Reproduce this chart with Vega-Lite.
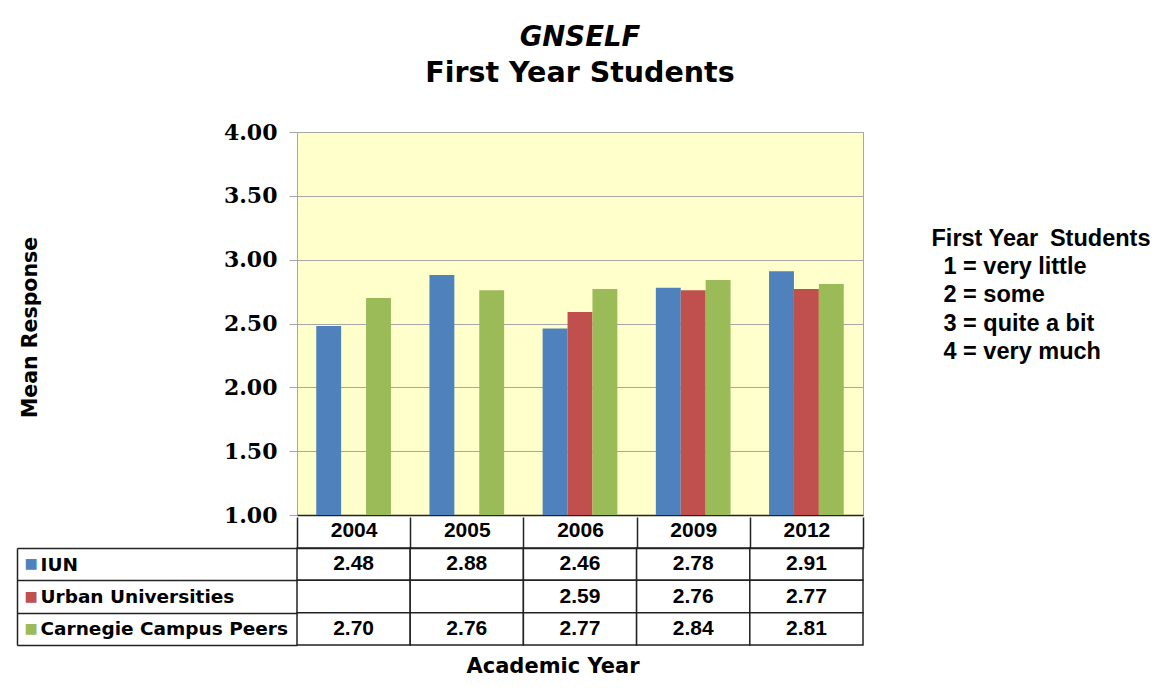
{
  "$schema": "https://vega.github.io/schema/vega-lite/v6.json",
  "background": "white",
  "padding": {"left": 16, "top": 23, "right": 0, "bottom": 0},
  "datasets": {
    "scores": [
      {"year": "2004", "series": "IUN", "value": 2.48},
      {"year": "2004", "series": "Urban Universities", "value": null},
      {"year": "2004", "series": "Carnegie Campus Peers", "value": 2.70},
      {"year": "2005", "series": "IUN", "value": 2.88},
      {"year": "2005", "series": "Urban Universities", "value": null},
      {"year": "2005", "series": "Carnegie Campus Peers", "value": 2.76},
      {"year": "2006", "series": "IUN", "value": 2.46},
      {"year": "2006", "series": "Urban Universities", "value": 2.59},
      {"year": "2006", "series": "Carnegie Campus Peers", "value": 2.77},
      {"year": "2009", "series": "IUN", "value": 2.78},
      {"year": "2009", "series": "Urban Universities", "value": 2.76},
      {"year": "2009", "series": "Carnegie Campus Peers", "value": 2.84},
      {"year": "2012", "series": "IUN", "value": 2.91},
      {"year": "2012", "series": "Urban Universities", "value": 2.77},
      {"year": "2012", "series": "Carnegie Campus Peers", "value": 2.81}
    ],
    "notes": [
      {"line": "First Year\u2002Students", "order": 0},
      {"line": "1 = very little", "order": 1},
      {"line": "2 = some", "order": 2},
      {"line": "3 = quite a bit", "order": 3},
      {"line": "4 = very much", "order": 4}
    ]
  },
  "spacing": -11,
  "vconcat": [
    {
      "spacing": 68,
      "center": true,
      "bounds": "flush",
      "hconcat": [
        {
          "width": 566,
          "height": 383,
          "data": {"name": "scores"},
          "view": {"fill": "#FFFFCC", "stroke": "#A6A6A6"},
          "title": {
            "text": "GNSELF",
            "subtitle": "First Year Students",
            "anchor": "middle",
            "frame": "group",
            "font": "DejaVu Sans",
            "fontSize": 27.5,
            "fontWeight": "bold",
            "fontStyle": "italic",
            "color": "black",
            "subtitleFont": "DejaVu Sans",
            "subtitleFontSize": 28.5,
            "subtitleFontWeight": "bold",
            "subtitleColor": "black",
            "subtitlePadding": 7,
            "offset": 34
          },
          "mark": {"type": "bar"},
          "encoding": {
            "x": {
              "field": "year",
              "type": "nominal",
              "sort": ["2004", "2005", "2006", "2009", "2012"],
              "scale": {"paddingInner": 0.34, "paddingOuter": 0.17},
              "axis": {"title": null, "labels": false, "ticks": false, "domain": true, "domainColor": "#222222", "domainWidth": 1.5, "grid": false}
            },
            "xOffset": {
              "field": "series",
              "type": "nominal",
              "sort": ["IUN", "Urban Universities", "Carnegie Campus Peers"],
              "scale": {"paddingInner": 0, "paddingOuter": 0}
            },
            "y": {
              "field": "value",
              "type": "quantitative",
              "scale": {"domain": [1, 4], "nice": false, "zero": false},
              "axis": {
                "values": [1, 1.5, 2, 2.5, 3, 3.5, 4],
                "format": ".2f",
                "labelFont": "DejaVu Serif",
                "labelFontSize": 22,
                "labelFontWeight": "bold",
                "labelColor": "black",
                "labelPadding": 12,
                "tickSize": 8,
                "tickColor": "#A6A6A6",
                "domain": false,
                "grid": true,
                "gridColor": "#A6A6A6",
                "gridWidth": 1,
                "title": "Mean Response",
                "titleFont": "DejaVu Sans",
                "titleFontSize": 20.5,
                "titleFontWeight": "bold",
                "titleColor": "black",
                "titleX": -257,
                "titleY": 195,
                "minExtent": 280
              }
            },
            "y2": {"datum": 1},
            "color": {
              "field": "series",
              "type": "nominal",
              "scale": {"domain": ["IUN", "Urban Universities", "Carnegie Campus Peers"], "range": ["#4F81BD", "#C0504D", "#9BBB59"]},
              "legend": null
            }
          }
        },
        {
          "width": 1,
          "height": 197,
          "data": {"name": "notes"},
          "view": {"stroke": null},
          "encoding": {
            "y": {"field": "order", "type": "ordinal", "axis": null, "scale": {"type": "band", "paddingInner": 0, "paddingOuter": 1, "align": 0}},
            "text": {"field": "line", "type": "nominal"}
          },
          "layer": [
            {
              "transform": [{"filter": "datum.order == 0"}],
              "mark": {"type": "text", "align": "left", "baseline": "middle", "font": "Liberation Sans", "fontSize": 23.5, "fontWeight": "bold", "color": "black"}
            },
            {
              "transform": [{"filter": "datum.order > 0"}],
              "mark": {"type": "text", "align": "left", "baseline": "middle", "dx": 12, "font": "Liberation Sans", "fontSize": 23.5, "fontWeight": "bold", "color": "black"}
            }
          ]
        }
      ]
    },
    {
      "width": 566,
      "height": 97,
      "data": {"name": "scores"},
      "view": {"stroke": null},
      "title": {
        "text": "Academic Year",
        "orient": "bottom",
        "anchor": "middle",
        "frame": "group",
        "dx": -27,
        "font": "DejaVu Sans",
        "fontSize": 21,
        "fontWeight": "bold",
        "color": "black",
        "offset": 10
      },
      "layer": [
        {
          "mark": {"type": "rect", "fill": "white", "stroke": "#222222", "strokeWidth": 1.5},
          "encoding": {
            "x": {
              "field": "year",
              "type": "nominal",
              "sort": ["2004", "2005", "2006", "2009", "2012"],
              "scale": {"paddingInner": 0, "paddingOuter": 0},
              "axis": {
                "orient": "top",
                "title": null,
                "tickBand": "extent",
                "tickSize": 31,
                "tickColor": "#222222",
                "tickWidth": 1.5,
                "domainColor": "#222222",
                "domainWidth": 1.5,
                "labelPadding": -23,
                "labelAngle": 0,
                "labelFont": "Liberation Sans",
                "labelFontSize": 21,
                "labelFontWeight": "bold",
                "labelColor": "black"
              }
            },
            "y": {
              "field": "series",
              "type": "nominal",
              "sort": ["IUN", "Urban Universities", "Carnegie Campus Peers"],
              "scale": {"paddingInner": 0, "paddingOuter": 0},
              "axis": {
                "orient": "left",
                "title": null,
                "tickBand": "extent",
                "tickSize": 280,
                "tickColor": "#222222",
                "tickWidth": 1.5,
                "domain": false,
                "labelAlign": "left",
                "labelBaseline": "middle",
                "labelPadding": -23,
                "labelLimit": 400,
                "labelFont": "DejaVu Sans",
                "labelFontSize": 18.5,
                "labelFontWeight": "bold",
                "labelColor": "black",
                "minExtent": 280
              }
            }
          }
        },
        {
          "transform": [{"filter": "datum.value != null"}],
          "mark": {"type": "text", "font": "Liberation Sans", "fontSize": 21, "fontWeight": "bold", "color": "black", "baseline": "middle"},
          "encoding": {
            "x": {"field": "year", "type": "nominal", "sort": ["2004", "2005", "2006", "2009", "2012"]},
            "y": {
              "field": "series",
              "type": "nominal",
              "sort": ["IUN", "Urban Universities", "Carnegie Campus Peers"],
              "axis": {
                "orient": "left",
                "offset": 280,
                "title": null,
                "ticks": false,
                "tickSize": 0,
                "domain": true,
                "domainColor": "#222222",
                "domainWidth": 1.5,
                "grid": false,
                "labelExpr": "'■'",
                "labelAlign": "left",
                "labelBaseline": "middle",
                "labelPadding": -7,
                "labelFont": "DejaVu Sans",
                "labelFontSize": 14,
                "labelColor": {
                  "condition": [
                    {"test": "datum.value == 'IUN'", "value": "#4F81BD"},
                    {"test": "datum.value == 'Urban Universities'", "value": "#C0504D"}
                  ],
                  "value": "#9BBB59"
                }
              }
            },
            "text": {"field": "value", "type": "quantitative", "format": ".2f"}
          }
        }
      ],
      "resolve": {"axis": {"y": "independent"}}
    }
  ]
}
